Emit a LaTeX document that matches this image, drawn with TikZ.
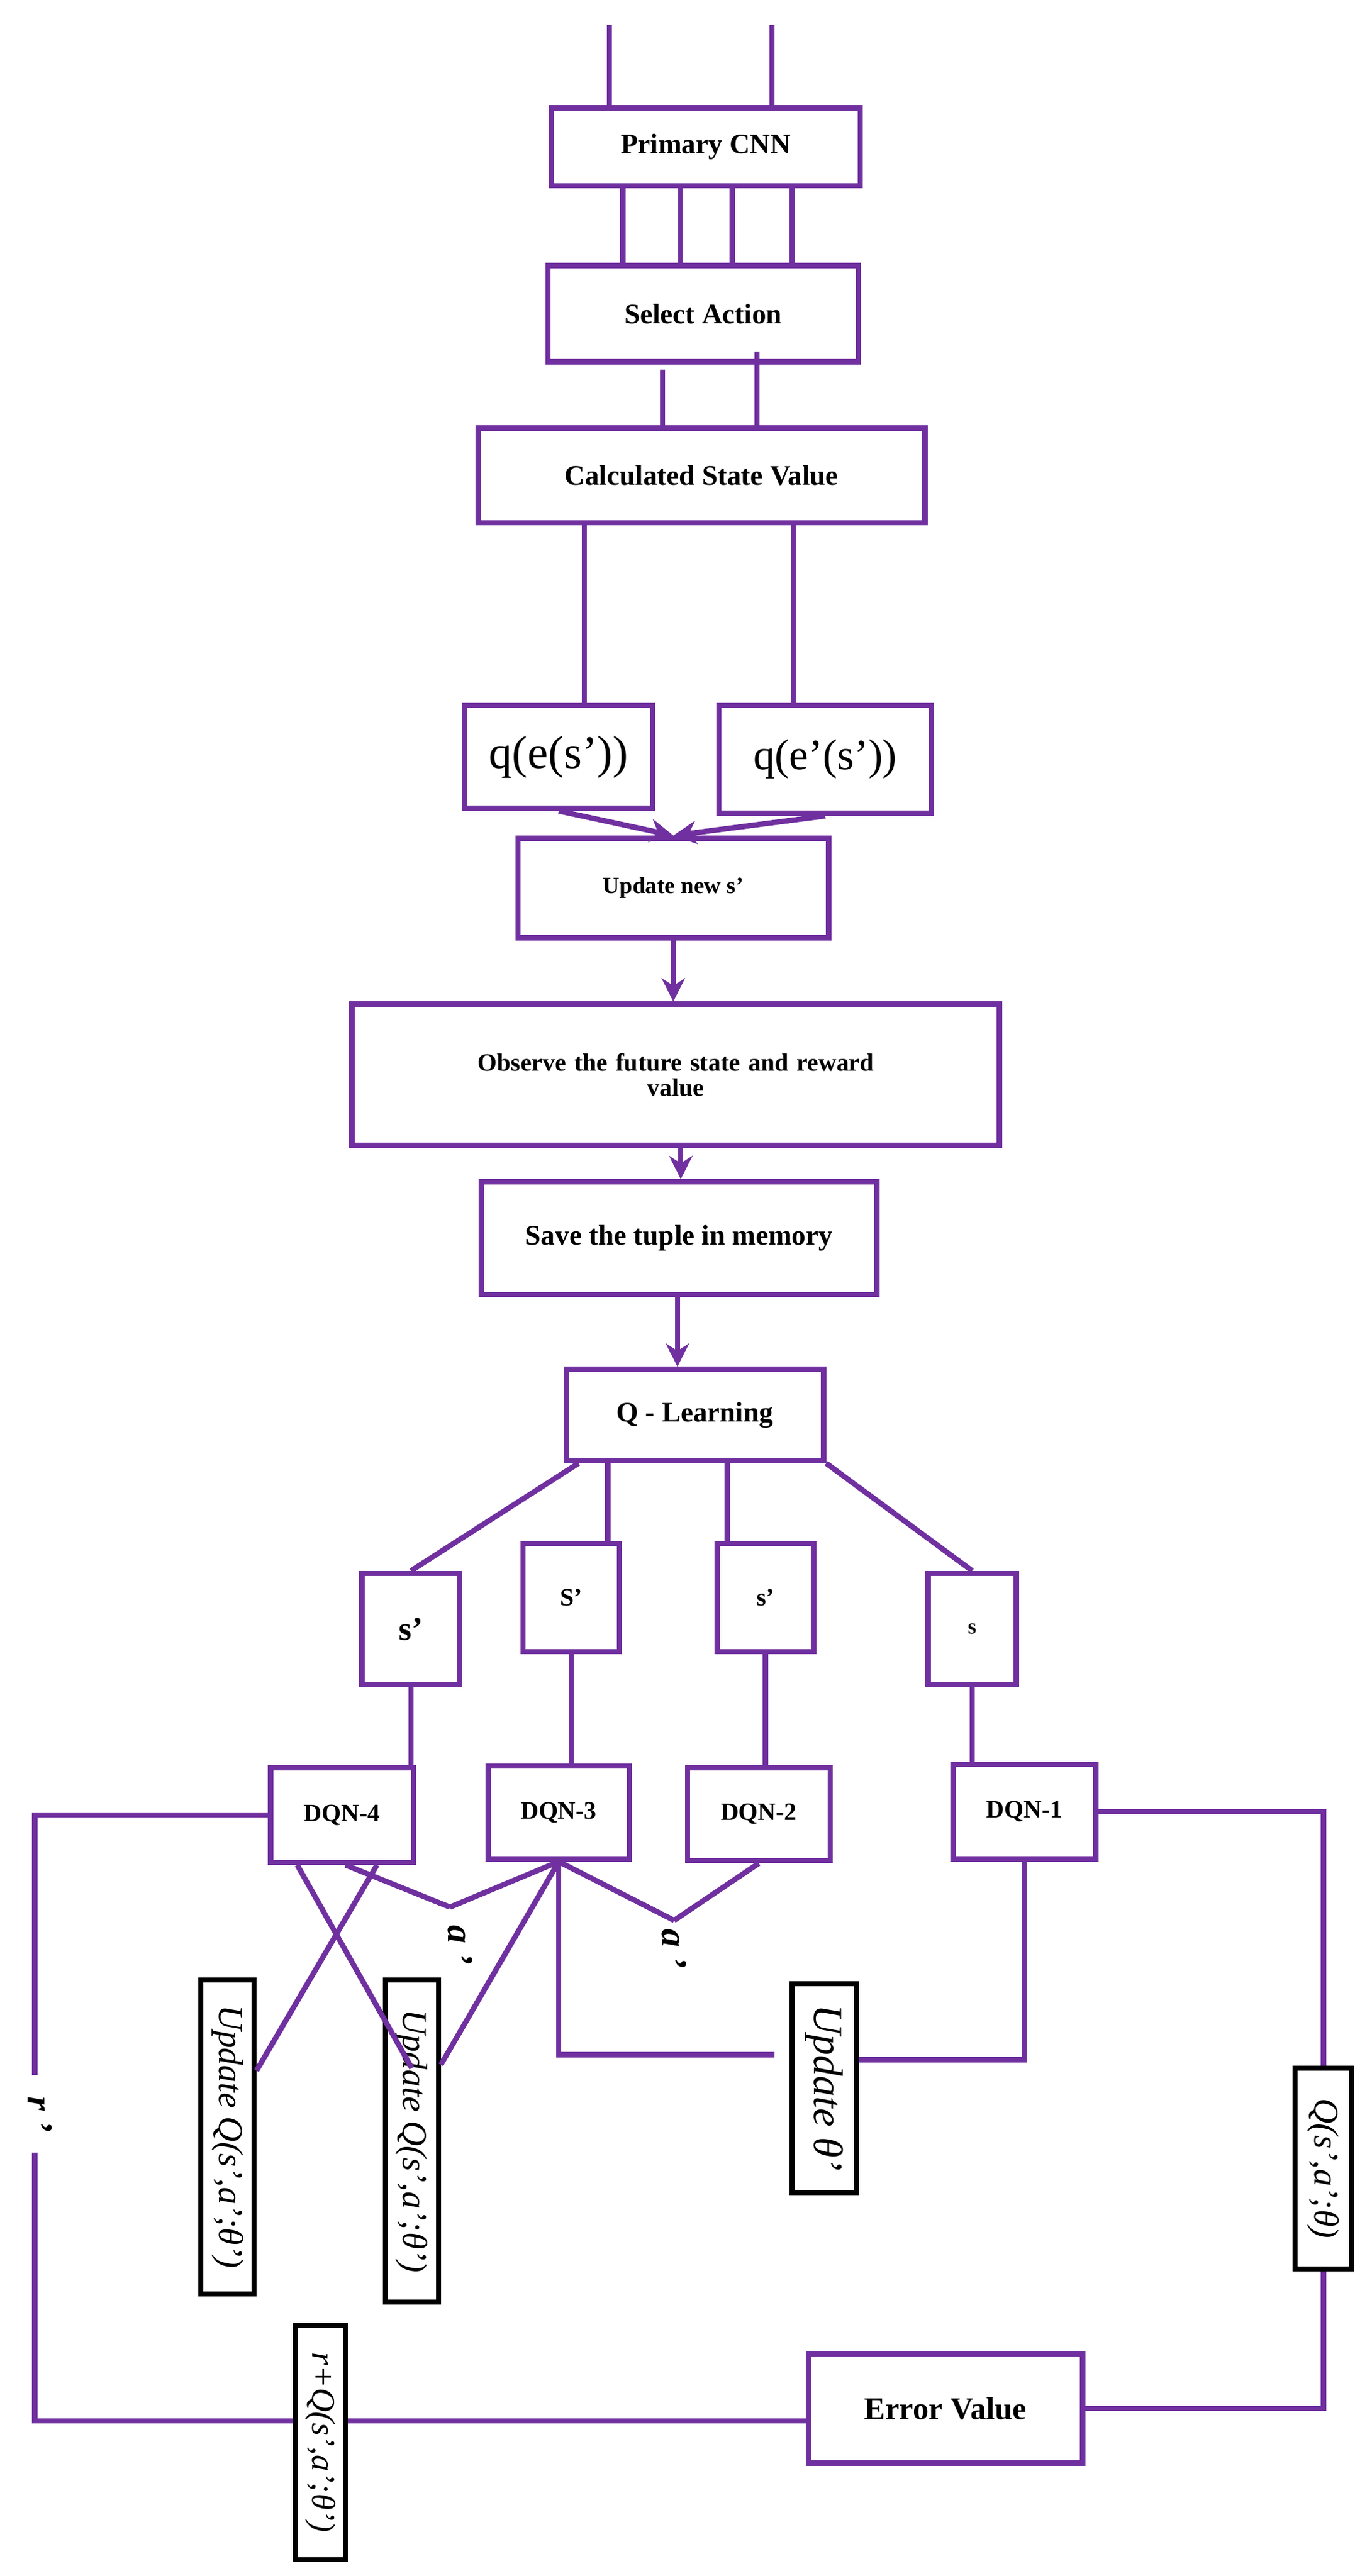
\documentclass[tikz,border=0pt]{standalone}
\usepackage{fontspec}
\setmainfont{Liberation Serif}
\usetikzlibrary{arrows.meta}
\definecolor{pp}{HTML}{7030A0}
\begin{document}
\begin{tikzpicture}[x=1pt,y=-1pt,
  ln/.style={draw=pp,line width=3.2pt},
  ar/.style={ln,-{Stealth[length=14pt,width=14pt]}},
  box/.style={draw=pp,line width=3.2pt,fill=white,inner sep=2pt,align=center,font=\bfseries\fontsize{#1}{#1}\selectfont},
  box/.default=17,
  rbox/.style={draw=black,line width=3pt,fill=white,rotate=-90,inner sep=1pt,font=\itshape\fontsize{#1}{#1}\selectfont},
  lbl/.style={rotate=-90,font=\bfseries\itshape\fontsize{22}{22}\selectfont}]
\useasboundingbox (0,0) rectangle (826,1552);
\fill[white] (0,0) rectangle (826,1552);
% top chain
\node[box,minimum width=186pt,minimum height=47pt] (P) at (425,88.5) {Primary CNN};
\node[box,minimum width=187pt,minimum height=58pt] (S) at (423.5,189) {Select Action};
\node[box,minimum width=269pt,minimum height=57pt] (C) at (422.5,286.5) {Calculated State Value};
\node[box,font=\fontsize{28}{28}\selectfont,minimum width=113pt,minimum height=62pt] (q1) at (336.5,456) {q(e(s’))};
\node[box,font=\fontsize{26}{26}\selectfont,minimum width=128pt,minimum height=65pt] (q2) at (497,457.5) {q(e’(s’))};
\node[box=14,minimum width=187pt,minimum height=60pt] (U) at (405.5,535) {Update new s’};
\node[box=15,minimum width=390pt,minimum height=85pt,text width=370pt] (O) at (407,647.5) {Observe the future state and reward\\ value};
\node[box,minimum width=238pt,minimum height=68pt] (Sv) at (409,746) {Save the tuple in memory};
\node[box,minimum width=155pt,minimum height=55pt] (QL) at (418.5,852.5) {Q - Learning};
\node[box=20,minimum width=59pt,minimum height=67pt] (s1) at (247.5,981.5) {s’};
\node[box=15,minimum width=58pt,minimum height=65pt] (s2) at (344,962.5) {S’};
\node[box=15,minimum width=58pt,minimum height=65pt] (s3) at (461,962.5) {s’};
\node[box=13,minimum width=53pt,minimum height=67pt] (s4) at (585.5,981.5) {s};
\node[box=15,minimum width=86pt,minimum height=57pt] (D4) at (206,1093.5) {DQN-4};
\node[box=15,minimum width=85pt,minimum height=56pt] (D3) at (336.5,1092) {DQN-3};
\node[box=15,minimum width=86pt,minimum height=56pt] (D2) at (457,1093) {DQN-2};
\node[box=15,minimum width=86pt,minimum height=57pt] (D1) at (617,1091.5) {DQN-1};
\node[box=19,minimum width=165pt,minimum height=66pt] (E) at (569.5,1451) {Error Value};
% rotated black boxes
\node[rbox=21,minimum width=189pt,minimum height=32pt] (UQ1) at (137,1287.5) {Update Q(s’,a’;θ’)};
\node[rbox=21,minimum width=194pt,minimum height=32pt] (UQ2) at (248,1290) {Update Q(s’,a’;θ’)};
\node[rbox=25,minimum width=126pt,minimum height=39pt] (Ut) at (496.5,1258) {Update θ’};
\node[rbox=21,minimum width=121pt,minimum height=34pt] (Qt) at (797,1306.5) {Q(s’,a’;θ)};
\node[rbox=20,minimum width=141pt,minimum height=30pt] (rQ) at (193,1471.5) {r+Q(s’,a’;θ’)};
\node[lbl] (a1l) at (277,1172) {a ’};
\node[lbl] (a2l) at (406,1174) {a ’};
\node[lbl] (rl) at (24,1274) {r ’};
% coordinates
\coordinate (t1) at (367,15);
\coordinate (t2) at (465,15);
\coordinate (a1) at (271,1149);
\coordinate (a2) at (406,1157);
\coordinate (L2) at (21,1250);
\coordinate (L3) at (21,1297);
% connectors
\draw[ln] (t1) -- (t1 |- P.north);
\draw[ln] (t2) -- (t2 |- P.north);
\foreach \d in {-50,-15,16,52}
  \draw[ln] ([xshift=\d pt]P.south) -- ([xshift=\d pt]P.south |- S.north);
\draw[ln] ([xshift=-24.5pt,yshift=-3pt]S.south) -- ([xshift=-24.5pt,yshift=-3pt]S.south |- C.north);
\draw[ln] ([xshift=32.5pt,yshift=8pt]S.south) -- ([xshift=32.5pt]S.south |- C.north);
\draw[ln] ([xshift=-70.5pt]C.south) -- ([xshift=-70.5pt]C.south |- q1.north);
\draw[ln] ([xshift=55.5pt]C.south) -- ([xshift=55.5pt]C.south |- q2.north);
\draw[ar] (q1.south) -- (U.north);
\draw[ar] (q2.south) -- (U.north);
\draw[ar] (U.south) -- (U.south |- O.north);
\draw[ar] ([xshift=3pt]O.south) -- ([xshift=3pt]O.south |- Sv.north);
\draw[ar] ([xshift=-1pt]Sv.south) -- ([xshift=-1pt]Sv.south |- QL.north);
\draw[ln] ([xshift=9pt]QL.south west) -- (s1.north);
\draw[ln] ([xshift=-52.5pt]QL.south) -- ([xshift=-52.5pt]QL.south |- s2.north);
\draw[ln] ([xshift=19.5pt]QL.south) -- ([xshift=19.5pt]QL.south |- s3.north);
\draw[ln] (QL.south east) -- (s4.north);
\draw[ln] (s1.south) -- (s1.south |- D4.north);
\draw[ln] (s2.south) -- (s2.south |- D3.north);
\draw[ln] (s3.south) -- (s3.south |- D2.north);
\draw[ln] (s4.south) -- (s4.south |- D1.north);
% left loop
\draw[ln] (D4.west) -| (L2);
\draw[ln] (L3) |- ([yshift=13pt]rQ.south);
\draw[ln] ([yshift=13pt]rQ.north) -- ([yshift=13pt]rQ.north -| E.west);
% right loop
\draw[ln] (E.east) -| (Qt.east);
\draw[ln] (Qt.west) |- (D1.east);
% update theta
\draw[ln] (D3.south) |- ([xshift=-9pt,yshift=20pt]Ut.south);
\draw[ln] ([yshift=17pt]Ut.north) -| (D1.south);
% diagonals
\draw[ln] ([xshift=-27pt]D4.south) -- ([yshift=44pt]UQ2.center);
\draw[ln] ([xshift=21pt]D4.south) -- ([yshift=40pt]UQ1.north);
\draw[ln] ([xshift=2pt]D4.south) -- (a1);
\draw[ln] (D3.south) -- (a1);
\draw[ln] (D3.south) -- ([yshift=46pt]UQ2.north);
\draw[ln] (D3.south) -- (a2);
\draw[ln] (D2.south) -- (a2);
\end{tikzpicture}
\end{document}
